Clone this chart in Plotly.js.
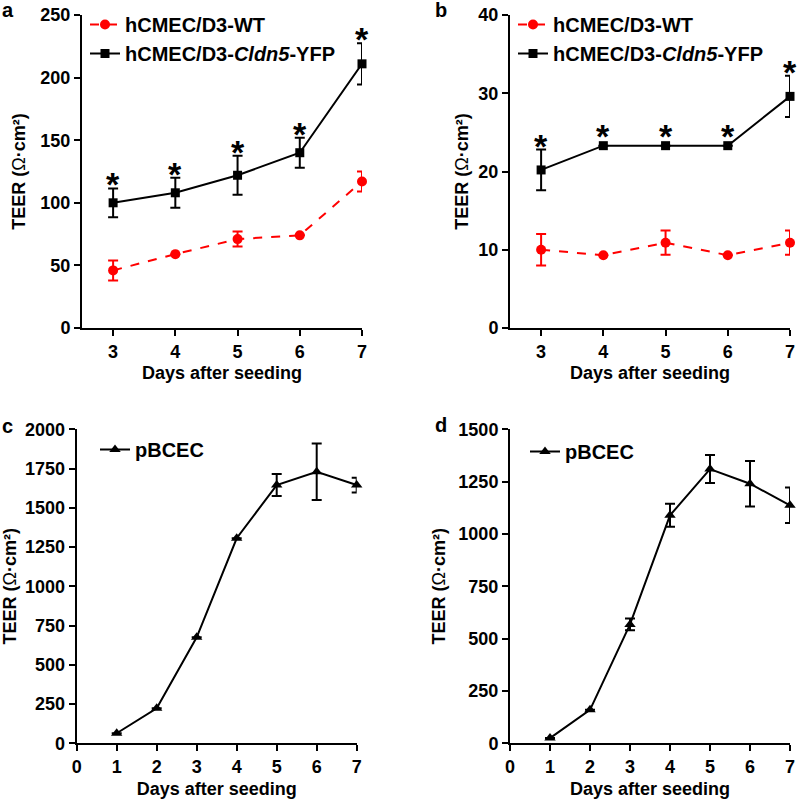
<!DOCTYPE html>
<html>
<head>
<meta charset="utf-8">
<script src="https://cdn.plot.ly/plotly-3.0.1.min.js"></script>
<style>html,body{margin:0;padding:0;background:#fff;}#chart{width:797px;height:799px;}</style>
</head>
<body>
<div id="chart"></div>
<script>
// ---- Data ----
const daysAB = [3, 4, 5, 6, 7];
const wtA = [46, 59, 71, 74, 117];
const wtAErr = [8, 0, 6, 0, 8];
const cldA = [100, 108, 122, 140, 211];
const cldAErr = [11.5, 12, 15.5, 12, 16.5];

const wtB = [10, 9.3, 10.9, 9.3, 10.9];
const wtBErr = [2, 0, 1.55, 0, 1.55];
const cldB = [20.2, 23.3, 23.3, 23.3, 29.6];
const cldBErr = [2.6, 0, 0, 0, 2.65];

const daysCD = [1, 2, 3, 4, 5, 6, 7];
const ticksCD = [0, 1, 2, 3, 4, 5, 6, 7];
const pbcecC = [64, 223, 675, 1306, 1645, 1730, 1645];
const pbcecCErr = [0, 0, 0, 0, 70, 180, 47];
const pbcecD = [25, 160, 568, 1089, 1310, 1240, 1137];
const pbcecDErr = [0, 0, 28, 55, 67, 109, 85];

const nameWT = 'hCMEC/D3-WT';
const nameCld = 'hCMEC/D3-<i>Cldn5</i>-YFP';
const namePB = 'pBCEC';
const sigMarks = ['*', '*', '*', '*', '*'];

// ---- Layout helpers ----
const W = 797, H = 799;
const FONT = 'Liberation Sans, Arial, Helvetica, sans-serif';
const RED = '#ff0000';
const px = v => v / W;
const py = v => 1 - v / H;

function xAxis(domain, range, tickvals, anchor, standoff) {
  return {
    domain: domain, range: range, tickvals: tickvals, anchor: anchor,
    showline: true, linewidth: 2, linecolor: '#000', ticks: 'outside', ticklen: 6, tickwidth: 2, tickcolor: '#000',
    showgrid: false, zeroline: false, fixedrange: true,
    tickfont: {family: FONT, size: 18, color: '#000', weight: 'bold'},
    title: {text: 'Days after seeding', standoff: standoff, font: {family: FONT, size: 18, color: '#000', weight: 'bold'}}
  };
}
function yAxis(domain, range, dtick, anchor, standoff) {
  return {
    domain: domain, range: range, dtick: dtick, anchor: anchor,
    showline: true, linewidth: 2, linecolor: '#000', ticks: 'outside', ticklen: 6, tickwidth: 2, tickcolor: '#000',
    showgrid: false, zeroline: false, fixedrange: true,
    tickfont: {family: FONT, size: 18, color: '#000', weight: 'bold'},
    title: {text: 'TEER (<span style="font-weight:normal">Ω</span>·cm²)', standoff: standoff, font: {family: FONT, size: 18, color: '#000', weight: 'bold'}}
  };
}
function errY(arr, color) {
  return {type: 'data', array: arr, visible: true, color: color, thickness: 2, width: 5};
}

const traces = [
  {x: daysAB, y: wtA, name: nameWT, type: 'scatter', mode: 'lines+markers', xaxis: 'x', yaxis: 'y', legend: 'legend',
   line: {color: RED, width: 2, dash: 'dash'}, marker: {symbol: 'circle', size: 10, color: RED},
   error_y: errY(wtAErr, RED), cliponaxis: false},
  {x: daysAB, y: cldA, name: nameCld, type: 'scatter', mode: 'lines+markers', xaxis: 'x', yaxis: 'y', legend: 'legend',
   line: {color: '#000', width: 2}, marker: {symbol: 'square', size: 9, color: '#000'},
   error_y: errY(cldAErr, '#000'), cliponaxis: false},
  {x: daysAB, y: wtB, name: nameWT, type: 'scatter', mode: 'lines+markers', xaxis: 'x2', yaxis: 'y2', legend: 'legend2',
   line: {color: RED, width: 2, dash: 'dash'}, marker: {symbol: 'circle', size: 10, color: RED},
   error_y: errY(wtBErr, RED), cliponaxis: false},
  {x: daysAB, y: cldB, name: nameCld, type: 'scatter', mode: 'lines+markers', xaxis: 'x2', yaxis: 'y2', legend: 'legend2',
   line: {color: '#000', width: 2}, marker: {symbol: 'square', size: 9, color: '#000'},
   error_y: errY(cldBErr, '#000'), cliponaxis: false},
  {x: daysCD, y: pbcecC, name: namePB, type: 'scatter', mode: 'lines+markers', xaxis: 'x3', yaxis: 'y3', legend: 'legend3',
   line: {color: '#000', width: 2}, marker: {symbol: 'triangle-up', size: 10, color: '#000'},
   error_y: errY(pbcecCErr, '#000'), cliponaxis: false},
  {x: daysCD, y: pbcecD, name: namePB, type: 'scatter', mode: 'lines+markers', xaxis: 'x4', yaxis: 'y4', legend: 'legend4',
   line: {color: '#000', width: 2}, marker: {symbol: 'triangle-up', size: 10, color: '#000'},
   error_y: errY(pbcecDErr, '#000'), cliponaxis: false}
];

const annotations = [];
function addStars(xs, ys, errs, xref, yref) {
  xs.forEach((d, i) => {
    annotations.push({x: d, y: ys[i] + errs[i], xref: xref, yref: yref, text: sigMarks[i], showarrow: false,
      yanchor: 'middle', yshift: errs[i] > 0 ? 4 : 10, font: {family: FONT, size: 34, color: '#000', weight: 'bold'}});
  });
}
addStars(daysAB, cldA, cldAErr, 'x', 'y');
addStars(daysAB, cldB, cldBErr, 'x2', 'y2');

const panelLabels = [['a', 8, 10], ['b', 441, 10], ['c', 8, 426], ['d', 441, 425]];
panelLabels.forEach(p => annotations.push({text: p[0], x: px(p[1]), y: py(p[2]), xref: 'paper', yref: 'paper',
  xanchor: 'center', yanchor: 'middle', showarrow: false, font: {family: FONT, size: 20, color: '#000', weight: 'bold'}}));

function legendAt(xp, yp) {
  return {x: px(xp), y: py(yp), xanchor: 'left', yanchor: 'top', bgcolor: 'rgba(0,0,0,0)', borderwidth: 0,
    font: {family: FONT, size: 20, color: '#000', weight: 'bold'}, itemwidth: 30, tracegroupgap: 0};
}

const layout = {
  width: W, height: H, margin: {l: 0, r: 0, t: 0, b: 0}, paper_bgcolor: '#fff', plot_bgcolor: '#fff',
  font: {family: FONT, color: '#000', weight: 'bold'},
  showlegend: true,
  xaxis: xAxis([px(82), px(362)], [2.5, 7], daysAB, 'y', 6),
  yaxis: yAxis([py(328), py(15)], [0, 250], 50, 'x', 10),
  xaxis2: xAxis([px(510), px(790)], [2.5, 7], daysAB, 'y2', 6),
  yaxis2: yAxis([py(328), py(15)], [0, 40], 10, 'x2', 5),
  xaxis3: xAxis([px(76.7), px(356.7)], [0, 7], ticksCD, 'y3', 6),
  yaxis3: yAxis([py(743.3), py(429.3)], [0, 2000], 250, 'x3', 8),
  xaxis4: xAxis([px(510), px(790)], [0, 7], ticksCD, 'y4', 6),
  yaxis4: yAxis([py(743.3), py(429.3)], [0, 1500], 250, 'x4', 8),
  legend: legendAt(85, 5),
  legend2: legendAt(513, 5),
  legend3: legendAt(95, 430),
  legend4: legendAt(525, 432),
  annotations: annotations
};

Plotly.newPlot('chart', traces, layout, {staticPlot: true, displayModeBar: false});
</script>
</body>
</html>
